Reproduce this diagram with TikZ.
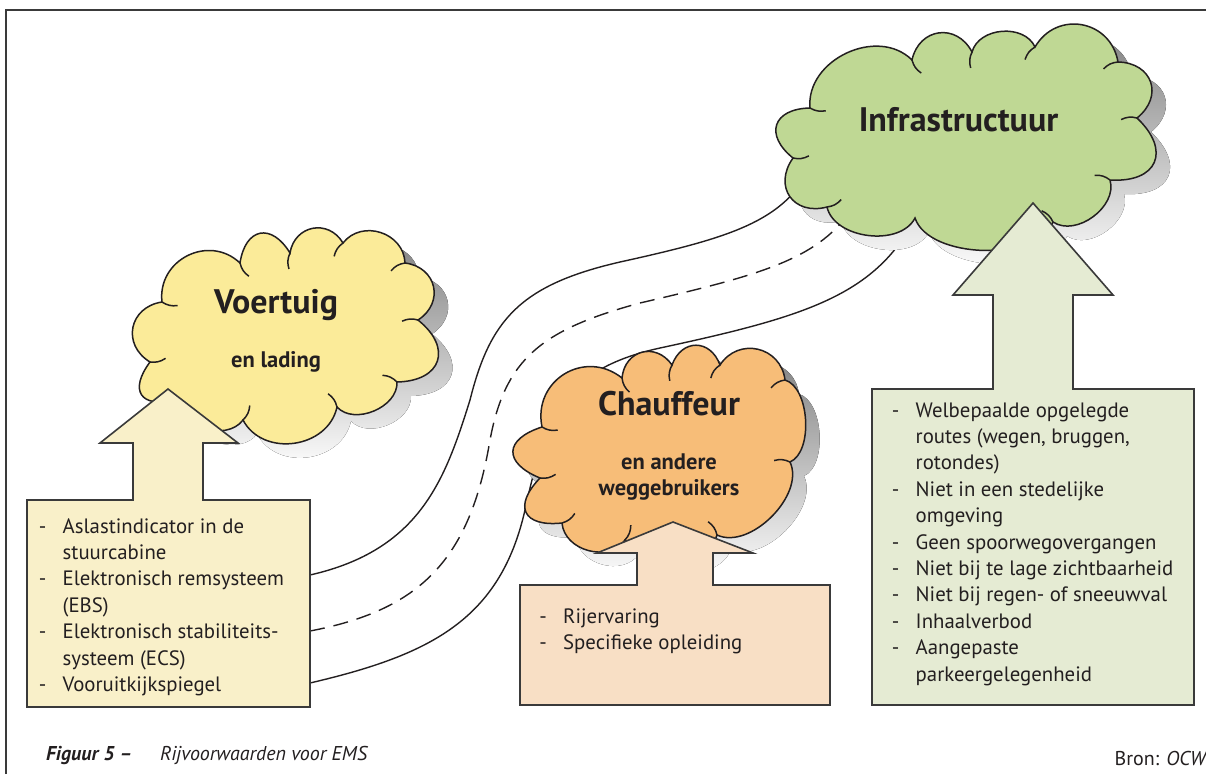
\documentclass[tikz,border=0pt]{standalone}
\usepackage{fontspec}
\setmainfont{PT Sans}
\usetikzlibrary{calc}
\definecolor{ink}{HTML}{231F20}
\definecolor{frameline}{HTML}{3A3A3A}
\definecolor{shade}{HTML}{BCBDC1}
\definecolor{infragreen}{HTML}{BFD894}
\definecolor{infrabox}{HTML}{E5EBD3}
\definecolor{voeryellow}{HTML}{FBEB99}
\definecolor{voerbox}{HTML}{F9F0C9}
\definecolor{chaufor}{HTML}{F7BD78}
\definecolor{chaufbox}{HTML}{F8DFC5}
\begin{document}
\begin{tikzpicture}[x=1pt,y=-1pt,
  bump/.style={bend left=70,looseness=#1},
  cloudline/.style={draw=ink,line width=1.5pt},
  crease/.style={draw=ink,line width=1.5pt},
  arrowbox/.style={draw=frameline,line width=1.6pt,line join=miter},
  road/.style={draw=ink,line width=1.4pt},
  listtext/.style={font=\fontsize{20.8}{26.4}\selectfont,text=ink,inner sep=0pt,anchor=base west},
  title/.style={font=\fontsize{34}{38}\selectfont\bfseries,text=ink,inner sep=0pt,anchor=base},
  subtitle/.style={font=\fontsize{22.5}{26}\selectfont\bfseries,text=ink,inner sep=0pt,anchor=base},
  caption/.style={text=ink,inner sep=0pt},
]
\useasboundingbox (0,0) rectangle (1206,774);
% frame
\draw[frameline,line width=1.6pt] (6,774) -- (6,10) -- (1206,10);

% road coordinates
\coordinate (r1s) at (310,575);
\coordinate (r1e) at (800,185);
\coordinate (r2s) at (310,631);
\coordinate (r2e) at (850,212);
\coordinate (r3s) at (310,683);
\coordinate (r3e) at (902,240);
\draw[road] (r1s) .. controls (420,550) and (445,480) .. (470,400)
   .. controls (490,320) and (520,285) .. (620,262)
   .. controls (720,240) and (770,225) .. (r1e);
\draw[road,dash pattern=on 15pt off 9pt] (r2s) .. controls (420,610) and (470,560) .. (490,440)
   .. controls (505,360) and (540,330) .. (640,303)
   .. controls (760,275) and (815,260) .. (r2e);
\draw[road] (r3s) .. controls (430,655) and (500,620) .. (525,510)
   .. controls (545,420) and (560,370) .. (660,348)
   .. controls (790,320) and (860,300) .. (r3e);

% cloud paths
\def\infracloud{(793,158) to[bump=1.8] (810,108) to[bump=1.1] (912,60) to[bump=1.4] (972,52) to[bump=1.05] (1035,47) to[bump=1.3] (1118,62) to[bump=1.5] (1137,118) to[bump=1.8] (1110,180) to[bump=1.0] (1053,222) to[bump=0.8] (915,218) to[bump=0.95] (827,207) to[bump=1.5] (793,158) -- cycle}
\def\voercloud{(162,302) to[bump=1.25] (240,263) to[bump=1.8] (290,253) to[bump=1.35] (343,243) to[bump=1.2] (405,263) to[bump=1.4] (418,320) to[bump=1.75] (397,382) to[bump=1.0] (337,407) to[bump=1.15] (243,420) to[bump=1.0] (175,400) to[bump=2.0] (150,362) to[bump=1.4] (162,302) -- cycle}
\def\chaufcloud{(542,427) to[bump=1.3] (622,378) to[bump=1.4] (672,365) to[bump=1.5] (720,365) to[bump=1.3] (785,380) to[bump=0.8] (790,462) to[bump=0.9] (717,535) to[bump=0.9] (625,540) to[bump=1.1] (562,523) to[bump=2.0] (540,478) to[bump=2.0] (542,427) -- cycle}

% shadows
\fill[shade,shift={(14,14)}] \infracloud;
\fill[shade,shift={(14,14)}] \voercloud;
\fill[shade,shift={(14,14)}] \chaufcloud;
% clouds
\path[cloudline,fill=infragreen] \infracloud;
\path[cloudline,fill=voeryellow] \voercloud;
\path[cloudline,fill=chaufor] \chaufcloud;
% creases
\foreach \x/\y in {793/158,810/108,912/60,972/52,1035/47,1118/62,1137/118,1110/180,1053/222,827/207}
  \draw[crease] (\x,\y) to[bend right=20] ($(\x,\y)!16pt!(965,135)$);
\foreach \x/\y in {162/302,240/263,290/253,343/243,405/263,418/320,397/382,337/407,243/420,150/362}
  \draw[crease] (\x,\y) to[bend right=20] ($(\x,\y)!16pt!(285,330)$);
\foreach \x/\y in {542/427,622/378,672/365,720/365,785/380,790/462,717/535,625/540,562/523,540/478}
  \draw[crease] (\x,\y) to[bend right=20] ($(\x,\y)!16pt!(660,450)$);

% titles
\node[title] (infra) at (958.5,131.7) {Infrastructuur};
\node[title] (voer) at (276,313) {Voertuig};
\node[subtitle] (voersub) at (276,367) {en lading};
\node[title] (chauf) at (669,415) {Chauffeur};
\node[subtitle] (chaufsub1) at (669,469) {en andere};
\node[subtitle] (chaufsub2) at (669,495) {weggebruikers};

% arrows with boxes
\draw[arrowbox,fill=voerbox] (27,500) -- (133,500) -- (133,443) -- (100,443) -- (168,389) -- (238,443) -- (203,443) -- (203,500) -- (310,500) -- (310,707) -- (27,707) -- cycle;
\draw[arrowbox,fill=chaufbox] (520,585) -- (637,585) -- (637,553) -- (597,553) -- (673,522) -- (753,553) -- (713,553) -- (713,585) -- (830,585) -- (830,705) -- (520,705) -- cycle;
\draw[arrowbox,fill=infrabox] (872,389) -- (993,389) -- (993,295) -- (953,295) -- (1033,203) -- (1113,295) -- (1073,295) -- (1073,389) -- (1194,389) -- (1194,705) -- (872,705) -- cycle;

% lists
\node[listtext] (vlist) at (22.5,533) {\begin{tabular}[t]{@{}l@{}l@{}}
\makebox[40pt]{-}&Aslastindicator in de\\
&stuurcabine\\
\makebox[40pt]{-}&Elektronisch remsysteem\\
&(EBS)\\
\makebox[40pt]{-}&Elektronisch stabiliteits-\\
&systeem (ECS)\\
\makebox[40pt]{-}&Vooruitkijkspiegel
\end{tabular}};
\node[listtext] (clist) at (523,623) {\begin{tabular}[t]{@{}l@{}l@{}}
\makebox[40pt]{-}&Rijervaring\\
\makebox[40pt]{-}&Specifieke opleiding
\end{tabular}};
\node[listtext] (ilist) at (875.5,417) {\begin{tabular}[t]{@{}l@{}l@{}}
\makebox[40pt]{-}&Welbepaalde opgelegde\\
&routes (wegen, bruggen,\\
&rotondes)\\
\makebox[40pt]{-}&Niet in een stedelijke\\
&omgeving\\
\makebox[40pt]{-}&Geen spoorwegovergangen\\
\makebox[40pt]{-}&Niet bij te lage zichtbaarheid\\
\makebox[40pt]{-}&Niet bij regen- of sneeuwval\\
\makebox[40pt]{-}&Inhaalverbod\\
\makebox[40pt]{-}&Aangepaste\\
&parkeergelegenheid
\end{tabular}};

% caption
\node[caption,anchor=base west,font=\fontsize{20}{22}\selectfont\bfseries\itshape] (figlabel) at (46,760) {Figuur 5 –};
\node[caption,anchor=base west,font=\fontsize{20}{22}\selectfont\itshape] (figtitle) at (160,760) {Rijvoorwaarden voor EMS};
\node[caption,anchor=base east,font=\fontsize{20}{22}\selectfont] (source) at (1208,765) {Bron: \textit{OCW}};
\end{tikzpicture}
\end{document}
